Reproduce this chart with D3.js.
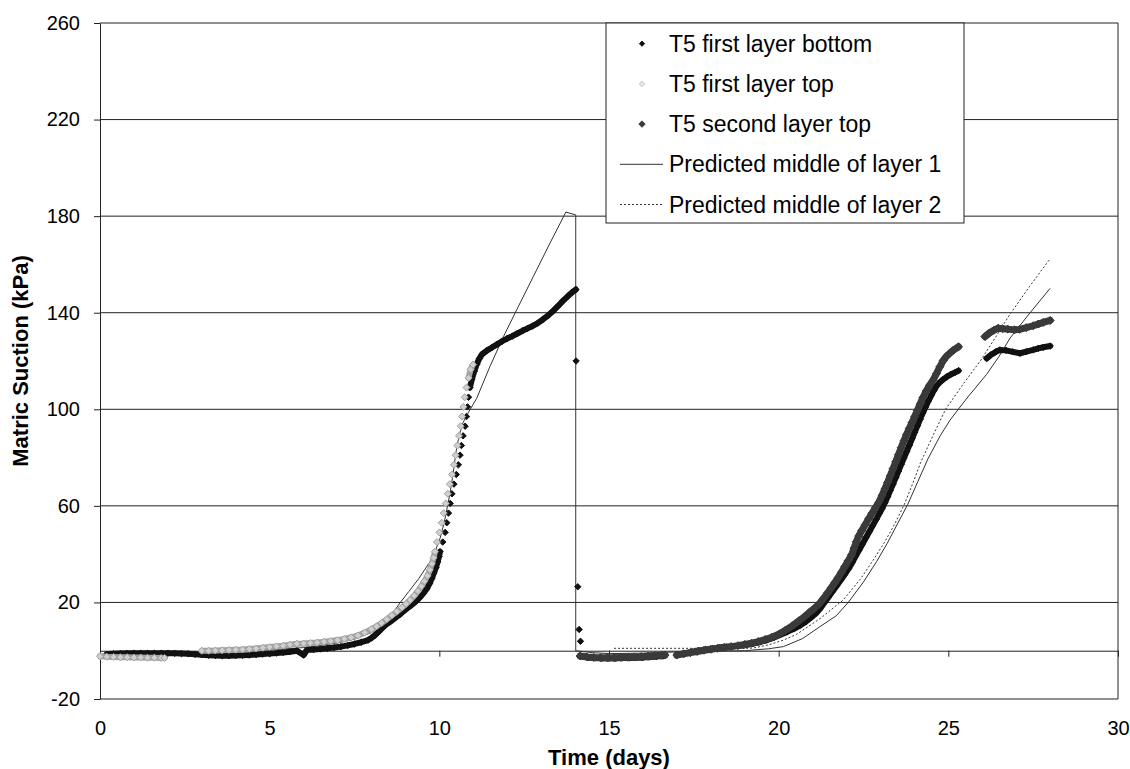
<!DOCTYPE html>
<html>
<head>
<meta charset="utf-8">
<script src="https://cdn.jsdelivr.net/npm/d3@7"></script>
<style>
body { margin: 0; background: #fff; }
text { font-family: "Liberation Sans", Arial, sans-serif; fill: #000; }
</style>
</head>
<body>
<svg id="chart" width="1130" height="769"></svg>
<script>
// [day, kPa]
var firstBottom = [
  [0.2,-1.5],[0.4,-1.3],[0.6,-1.2],[0.8,-1.1],[1.0,-1],[1.2,-1],[1.4,-1],[1.6,-1],[1.8,-1],[2.0,-1],
  [2.2,-1.1],[2.4,-1.2],[2.6,-1.3],[2.8,-1.5],[3.0,-1.7],[3.2,-1.9],[3.4,-2],[3.6,-2.1],[3.8,-2.1],[4.0,-2],
  [4.2,-1.9],[4.4,-1.8],[4.6,-1.6],[4.8,-1.4],[5.0,-1.2],[5.2,-1],[5.4,-0.7],[5.6,-0.4],[5.8,0],[6.0,-1.8],
  [6.1,0.3],[6.3,0.5],[6.5,0.7],[6.7,1],[6.9,1.3],[7.1,1.7],[7.3,2.2],[7.5,2.8],[7.7,3.5],[7.9,4.4],
  [8.0,5.3],[8.1,6.4],[8.2,7.7],[8.3,9.1],[8.4,10.5],[8.55,12],[8.7,13.6],[8.85,15.2],[9.0,17],[9.15,18.6],
  [9.3,20.3],[9.42,22],[9.53,23.8],[9.63,25.7],[9.71,27.8],[9.78,30],[9.84,32.2],[9.9,34.5],[9.95,36.8],[9.99,39],
  [10.02,41],[10.1,45],[10.17,49],[10.22,53],[10.27,57],[10.32,61],[10.37,65],[10.43,69],[10.5,73],[10.56,77],
  [10.61,81],[10.65,85],[10.7,89],[10.76,93],[10.8,97],[10.83,101],[10.86,105],[10.9,109],[10.96,112.5],[11.03,115.8],
  [11.1,118.6],[11.18,121],[11.26,122.8],[11.4,124.3],[11.55,125.6],[11.7,126.9],[11.85,128.2],[12.0,129.3],[12.15,130.3],[12.3,131.4],
  [12.45,132.5],[12.6,133.5],[12.75,134.5],[12.9,135.7],[13.05,137.2],[13.2,138.8],[13.35,140.7],[13.5,142.8],[13.65,145],[13.8,147],
  [13.92,148.5],[14.02,149.6],[14.03,120],[14.08,26.5],[14.12,8.8],[14.16,3.9],
  [14.22,-2.3],[14.4,-2.8],[14.6,-3],[14.8,-3.1],[15.0,-3.1],[15.2,-3.1],[15.4,-3],[15.6,-3],[15.8,-2.9],[16.0,-2.8],
  [16.2,-2.6],[16.4,-2.4],[16.6,-2.2],
  [17.05,-1.5],[17.25,-1],[17.45,-0.5],[17.65,0],[17.85,0.4],[18.05,0.8],[18.25,1.2],[18.45,1.5],[18.65,1.8],[18.85,2.1],
  [19.05,2.5],[19.25,3],[19.45,3.6],[19.65,4.4],[19.85,5.4],[20.05,6.6],[20.25,7.8],[20.45,9.1],[20.65,10.6],[20.8,12],
  [20.95,13.7],[21.1,15.5],[21.22,17.4],[21.34,19.8],[21.46,22.1],[21.58,24.4],[21.7,26.7],[21.82,29.1],[21.94,31.5],[22.06,34],
  [22.17,36.6],[22.27,39.2],[22.37,41.7],[22.47,44.2],[22.57,46.8],[22.67,49.3],[22.77,51.8],[22.87,54.3],[22.97,56.9],[23.05,59],
  [23.13,61.3],[23.21,63.8],[23.29,66.4],[23.37,69],[23.45,71.7],[23.53,74.4],[23.61,77.1],[23.69,79.8],[23.77,82.5],[23.85,85.1],
  [23.93,87.8],[24.01,90.5],[24.09,93.2],[24.17,95.9],[24.25,98.5],[24.33,101],[24.41,103.4],[24.49,105.6],[24.57,107.7],[24.65,109.6],
  [24.75,111.2],[24.85,112.4],[24.95,113.4],[25.07,114.4],[25.2,115.3],[25.3,116],
  [26.13,121.1],[26.25,122.5],[26.4,123.8],[26.52,124.6],[26.7,124.4],[26.9,123.8],[27.11,123.2],[27.3,123.9],[27.5,124.6],[27.65,125.2],
  [27.8,125.7],[28.0,126.2]
];

var firstTop = [
  [0.0,-2.3],[0.2,-2.5],[0.4,-2.6],[0.6,-2.7],[0.8,-2.7],[1.0,-2.8],[1.2,-2.8],[1.4,-2.9],[1.6,-2.9],[1.8,-3.0],[1.9,-3.0],
  [3.0,0],[3.2,0],[3.4,0.1],[3.6,0.2],[3.8,0.3],[4.0,0.4],[4.2,0.5],[4.4,0.7],[4.6,0.9],[4.8,1.2],
  [5.0,1.5],[5.2,1.8],[5.4,2.1],[5.6,2.5],[5.8,2.9],[6.0,3.0],[6.2,3.2],[6.4,3.4],[6.6,3.7],[6.8,4.0],
  [7.0,4.4],[7.2,4.9],[7.4,5.5],[7.6,6.3],[7.8,7.5],[8.0,8.9],[8.15,10.1],[8.3,11.5],[8.45,13],[8.6,14.6],
  [8.75,16.2],[8.9,17.9],[9.02,19.4],[9.14,21],[9.26,22.8],[9.37,24.7],[9.47,26.7],[9.56,28.8],[9.65,31],[9.72,33.5],
  [9.78,36],[9.83,38.5],[9.87,41],[9.93,45],[10.0,49],[10.07,53],[10.13,57],[10.19,61],[10.25,65],[10.31,69],
  [10.37,73],[10.43,77],[10.48,81],[10.53,85],[10.58,89],[10.63,93],[10.67,97],[10.71,101],[10.75,105],[10.8,109],
  [10.86,113],[10.92,116.5],[10.99,118.5]
];

var secondTop = [
  [14.15,-2.2],[14.35,-2.6],[14.55,-2.8],[14.75,-2.9],[14.95,-2.9],[15.15,-2.9],[15.35,-2.8],[15.55,-2.7],[15.75,-2.6],[15.95,-2.5],
  [16.15,-2.3],[16.35,-2.1],[16.55,-1.9],[16.65,-1.8],
  [17.0,-1.8],[17.2,-1.3],[17.4,-0.8],[17.6,-0.3],[17.8,0.2],[18.0,0.6],[18.2,1],[18.4,1.4],[18.6,1.7],[18.8,2.1],
  [19.0,2.6],[19.2,3.1],[19.4,3.8],[19.6,4.6],[19.8,5.6],[20.0,6.8],[20.2,8.5],[20.4,10.3],[20.6,12.4],[20.75,14],
  [20.9,15.8],[21.05,17.5],[21.2,19.5],[21.32,21.6],[21.44,23.9],[21.55,26.1],[21.65,28.1],[21.75,30.2],[21.85,32.5],[21.95,34.9],
  [22.05,37.3],[22.15,39.7],[22.22,42.5],[22.29,45.2],[22.36,47.5],[22.45,49.8],[22.55,52.2],[22.65,54.6],[22.75,56.9],[22.85,59.2],
  [22.95,61.5],[23.05,64.4],[23.13,67],[23.21,69.7],[23.29,72.5],[23.37,75.4],[23.45,78.3],[23.53,81.2],[23.61,84.1],[23.69,86.9],
  [23.77,89.6],[23.85,92.1],[23.93,94.5],[24.01,97],[24.09,99.6],[24.17,102.2],[24.25,104.8],[24.35,107.6],[24.45,110],[24.55,112.1],
  [24.65,114.8],[24.75,117.6],[24.85,120.2],[24.95,122],[25.05,123.3],[25.15,124.5],[25.3,125.9],
  [26.08,130.1],[26.2,131.5],[26.35,132.8],[26.47,133.6],[26.6,133.4],[26.75,133.2],[26.95,132.9],[27.1,133.1],[27.3,133.8],[27.5,134.6],
  [27.65,135.3],[27.8,136],[28.0,136.8]
];

var predLayer1 = [
  [0,-1.5],[1,-1.2],[2,-1],[3,-0.7],[4,-0.3],[5,0.3],[6,1.3],[7,3.2],[7.5,4.8],[8,7.5],
  [8.35,11],[8.6,15],[8.84,19.8],[9.1,24.5],[9.4,30],[9.73,37],[9.9,42],[10.02,46.5],[10.15,53.5],[10.27,62],
  [10.36,69],[10.44,77],[10.51,84],[10.6,90],[10.7,94.5],[10.86,98.8],[11.1,104.5],[11.49,117.7],[11.89,130.1],[12.28,141.2],
  [12.77,155],[13.26,168.8],[13.73,181.7],[14.02,180.5],[14.02,0],[14.5,-0.8],[15,-1.2],[16,-1],[17,-0.5],[18,-0.2],
  [19,0],[19.7,0.8],[20.14,1.7],[20.7,5],[21.22,10],[21.7,14.5],[22.05,20],[22.5,28.5],[22.89,37],[23.2,44.5],
  [23.5,52.5],[23.8,60.5],[24.1,70],[24.4,79.5],[24.76,89],[25.05,95.5],[25.32,100.5],[25.6,105.5],[26.13,114.5],[26.5,122],
  [26.82,129.5],[27.41,140],[28,150.1]
];

var predLayer2 = [
  [15.15,1],[16,1],[17,1],[18,1],[19,1],[19.25,1.1],[19.7,2.4],[20.14,4.4],[20.53,6.8],[21.22,13.3],
  [21.9,21],[22.4,29.5],[22.79,37.6],[23.1,44.5],[23.38,51.4],[23.7,60.5],[24.0,71],[24.17,77.5],[24.56,89.5],[24.92,100],
  [25.44,110.5],[25.94,120],[26.4,130],[26.8,139],[27.4,151],[27.97,161.8]
];

var xTicks = [0, 5, 10, 15, 20, 25, 30];
var yTicks = [-20, 20, 60, 100, 140, 180, 220, 260];
var legendLabels = ['T5 first layer bottom', 'T5 first layer top', 'T5 second layer top',
  'Predicted middle of layer 1', 'Predicted middle of layer 2'];

var svg = d3.select('#chart');
var plotL = 100, plotR = 1118, plotT = 23, plotB = 699;

var x = d3.scaleLinear().domain([0, 30]).range([plotL, plotR]);
var y = d3.scaleLinear().domain([-20, 260]).range([plotB, plotT]);

svg.append('rect').attr('width', 1130).attr('height', 769).attr('fill', '#fff');

// horizontal grid
svg.append('g')
  .selectAll('line')
  .data(yTicks)
  .enter()
  .append('line')
  .attr('x1', plotL).attr('x2', plotR)
  .attr('y1', function(d) { return y(d); })
  .attr('y2', function(d) { return y(d); })
  .attr('stroke', '#222').attr('stroke-width', 1);

// right border
svg.append('line')
  .attr('x1', plotR).attr('x2', plotR).attr('y1', plotT).attr('y2', plotB)
  .attr('stroke', '#222');

// y axis (plain hyphen for negatives, like the original)
var yAxis = svg.append('g')
  .attr('transform', 'translate(' + plotL + ',0)')
  .call(d3.axisLeft(y).tickValues(yTicks).tickSize(6).tickPadding(14).tickSizeOuter(0)
    .tickFormat(function(d) { return String(d); }));
yAxis.selectAll('text').style('font-size', '20px');

// x axis sits on zero, labels at the bottom
var xAxis = svg.append('g')
  .attr('transform', 'translate(0,' + y(0) + ')')
  .call(d3.axisBottom(x).tickValues(xTicks).tickSize(6).tickSizeOuter(0).tickFormat(''));
var xLabels = svg.append('g')
  .attr('transform', 'translate(0,' + plotB + ')')
  .call(d3.axisBottom(x).tickValues(xTicks).tickSize(0).tickPadding(22));
xLabels.select('.domain').remove();
xLabels.selectAll('text').style('font-size', '20px');

svg.selectAll('.domain, .tick line').attr('stroke', '#222');

// axis titles
svg.append('text')
  .attr('x', (plotL + plotR) / 2).attr('y', 765)
  .attr('text-anchor', 'middle')
  .style('font-size', '22px').style('font-weight', 'bold')
  .text('Time (days)');
svg.append('text')
  .attr('transform', 'translate(28,' + (plotT + plotB) / 2 + ') rotate(-90)')
  .attr('text-anchor', 'middle')
  .style('font-size', '22px').style('font-weight', 'bold')
  .text('Matric Suction (kPa)');

// predicted curves
var line = d3.line()
  .x(function(d) { return x(d[0]); })
  .y(function(d) { return y(d[1]); });

svg.append('path')
  .attr('d', line(predLayer1))
  .attr('fill', 'none').attr('stroke', '#333').attr('stroke-width', 1);
svg.append('path')
  .attr('d', line(predLayer2))
  .attr('fill', 'none').attr('stroke', '#333').attr('stroke-width', 1)
  .attr('stroke-dasharray', '2,2');

function diamond(r) {
  return 'M0,' + (-r) + 'L' + r + ',0L0,' + r + 'L' + (-r) + ',0Z';
}

// measured points: dense runs merge into a band, sparse ones stay as markers
function drawSeries(data, st) {
  var g = svg.append('g');
  var runs = [], cur = [];
  data.forEach(function(p, i) {
    if (i > 0) {
      var q = data[i - 1];
      var dist = Math.hypot(x(p[0]) - x(q[0]), y(p[1]) - y(q[1]));
      if (dist > 9) { runs.push(cur); cur = []; }
    }
    cur.push(p);
  });
  runs.push(cur);

  runs.filter(function(r) { return r.length > 1; }).forEach(function(r) {
    g.append('path')
      .attr('d', line(r))
      .attr('fill', 'none')
      .attr('stroke', st.band)
      .attr('stroke-width', st.width)
      .attr('stroke-linejoin', 'round')
      .attr('stroke-linecap', 'round');
  });

  g.selectAll('path.pt')
    .data(data)
    .enter()
    .append('path')
    .attr('class', 'pt')
    .attr('d', diamond(st.r))
    .attr('transform', function(d) { return 'translate(' + x(d[0]) + ',' + y(d[1]) + ')'; })
    .attr('fill', st.fill)
    .attr('stroke', st.stroke)
    .attr('stroke-width', 1);
}

var styles = [
  { band: '#111', width: 6, r: 3.2, fill: '#111', stroke: '#111' },
  { band: '#a4a4a4', width: 6, r: 3.5, fill: '#cfcfcf', stroke: '#a0a0a0' },
  { band: '#3a3a3a', width: 7, r: 4, fill: '#3a3a3a', stroke: '#3a3a3a' }
];

drawSeries(firstBottom, styles[0]);
drawSeries(firstTop, styles[1]);
drawSeries(secondTop, styles[2]);

// legend
var lg = svg.append('g');
lg.append('rect')
  .attr('x', 606).attr('y', plotT).attr('width', 358).attr('height', 200)
  .attr('fill', '#fff').attr('stroke', '#222').attr('stroke-width', 1);

legendLabels.forEach(function(label, i) {
  var base = 51.7 + 40.2 * i;
  var cy = base - 8;
  if (i < 3) {
    var st = styles[i];
    lg.append('path')
      .attr('d', diamond(i === 2 ? 3.2 : 2.6))
      .attr('transform', 'translate(642,' + cy + ')')
      .attr('fill', i === 1 ? '#eee' : st.fill).attr('stroke', i === 1 ? '#bbb' : st.stroke);
  } else {
    lg.append('line')
      .attr('x1', 620).attr('x2', 663).attr('y1', cy).attr('y2', cy)
      .attr('stroke', '#333').attr('stroke-width', 1)
      .attr('stroke-dasharray', i === 4 ? '2,2' : null);
  }
  lg.append('text')
    .attr('x', 669).attr('y', base)
    .style('font-size', '23px')
    .text(label);
});
</script>
</body>
</html>
